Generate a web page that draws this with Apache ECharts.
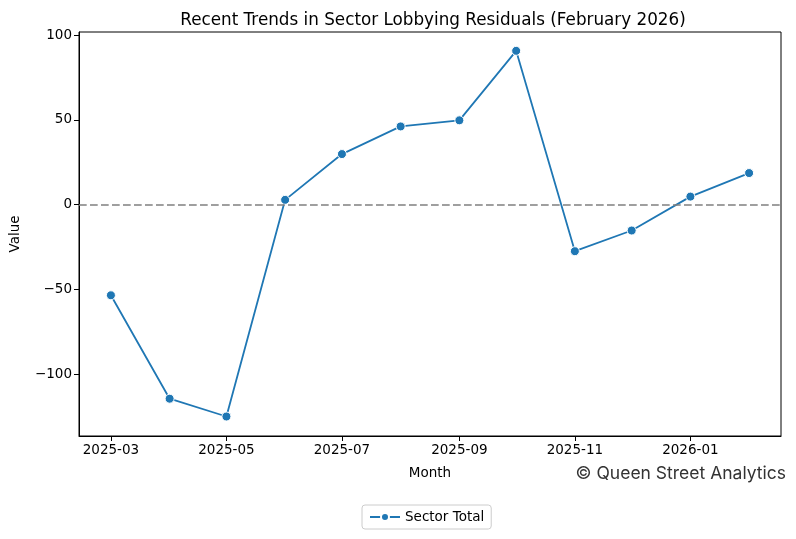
<!DOCTYPE html>
<html>
	<head>
		<meta charset="utf-8">
		<script src="https://cdn.jsdelivr.net/npm/echarts@6/dist/echarts.min.js"></script>
		<title></title>
		<style>
			html, body { margin: 0; padding: 0; background: #fff; }
		</style>
	</head>
	<body>
		<div id="main" style="width: 796px;height:539px;"></div>
		<script type="text/javascript">
			// monthly residuals
			var months = ['2025-03-01', '2025-04-01', '2025-05-01', '2025-06-01', '2025-07-01', '2025-08-01',
				'2025-09-01', '2025-10-01', '2025-11-01', '2025-12-01', '2026-01-01', '2026-02-01'];
			var sectorTotal = [-53.5, -114.5, -125, 2.8, 29.8, 46.1, 49.7, 90.7, -27.5, -15.3, 4.7, 18.6];

			var times = months.map(function (m) { return new Date(m + 'T00:00:00Z').getTime(); });
			var pad = (times[times.length - 1] - times[0]) * 0.05;

			var font = 'DejaVu Sans';
			var myChart = echarts.init(document.getElementById('main'));

			var option = {
				animation: false,
				useUTC: true,
				title: {
					text: 'Recent Trends in Sector Lobbying Residuals (February 2026)',
					left: 428,
					textAlign: 'center',
					top: 7,
					textStyle: { fontFamily: font, fontSize: 16.8, fontWeight: 'normal', color: '#000' }
				},
				grid: {
					left: 79, right: 15, top: 32, bottom: 103,
					show: true, borderColor: '#000', borderWidth: 1
				},
				legend: {
					bottom: 10,
					left: 362,
					data: ['Sector Total'],
					borderColor: '#ccc',
					borderWidth: 1,
					borderRadius: 3,
					padding: [5, 7],
					itemWidth: 30,
					itemHeight: 10,
					itemGap: 8,
					textStyle: { fontFamily: font, fontSize: 13.5, color: '#000' }
				},
				xAxis: {
					type: 'time',
					min: times[0] - pad,
					max: times[times.length - 1] + pad,
					name: 'Month',
					nameLocation: 'middle',
					nameGap: 30,
					nameTextStyle: { fontFamily: font, fontSize: 13.5, color: '#000' },
					axisLine: { onZero: false, lineStyle: { color: '#000' } },
					axisTick: { show: true, length: 5, lineStyle: { color: '#000' } },
					splitLine: { show: false },
					axisLabel: {
						fontFamily: font, fontSize: 13.5, color: '#000', margin: 7,
						showMinLabel: false, showMaxLabel: false,
						formatter: function (v) {
							var d = new Date(v);
							var mm = d.getUTCMonth() + 1;
							return d.getUTCFullYear() + '-' + (mm < 10 ? '0' : '') + mm;
						}
					}
				},
				yAxis: {
					type: 'value',
					min: -136.5,
					max: 101.8,
					name: 'Value',
					nameLocation: 'middle',
					nameGap: 57,
					nameTextStyle: { fontFamily: font, fontSize: 13.5, color: '#000' },
					axisLine: { show: true, onZero: false, lineStyle: { color: '#000' } },
					axisTick: { show: true, length: 5, lineStyle: { color: '#000' } },
					splitLine: { show: false },
					axisLabel: {
						fontFamily: font, fontSize: 13.5, color: '#000', margin: 7,
						showMinLabel: false, showMaxLabel: false,
						formatter: function (v) { return v < 0 ? '\u2212' + (-v) : '' + v; }
					}
				},
				graphic: [{
					type: 'text',
					right: 10,
					top: 465,
					style: {
						text: '\u00a9 Queen Street Analytics',
						fontFamily: 'Inter', fontSize: 17.5, fill: '#333'
					}
				}],
				series: [{
					name: 'Sector Total',
					type: 'line',
					data: times.map(function (t, i) { return [t, sectorTotal[i]]; }),
					symbol: 'circle',
					symbolSize: 9,
					lineStyle: { color: '#1f77b4', width: 1.8 },
					itemStyle: { color: '#1f77b4', borderColor: '#fff', borderWidth: 1 },
					markLine: {
						silent: true,
						symbol: 'none',
						label: { show: false },
						lineStyle: { color: '#808080', type: [7.7, 3.3], width: 1.6 },
						data: [{ yAxis: 0 }]
					}
				}]
			};

			myChart.setOption(option);
		</script>
	</body>
</html>
